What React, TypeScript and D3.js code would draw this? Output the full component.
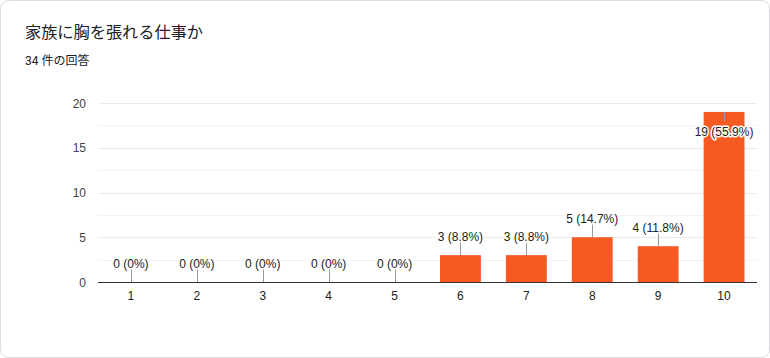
import React from "react";
import * as d3 from "d3";

const categories = ["1", "2", "3", "4", "5", "6", "7", "8", "9", "10"];
const counts = [0, 0, 0, 0, 0, 3, 3, 5, 4, 19];
const percents = ["0%", "0%", "0%", "0%", "0%", "8.8%", "8.8%", "14.7%", "11.8%", "55.9%"];
const yTicks = [0, 5, 10, 15, 20];
const yMinorTicks = [2.5, 7.5, 12.5, 17.5];
const title = "家族に胸を張れる仕事か";
const subtitle = "34 件の回答";

const W = 770;
const H = 358;
const margin = { left: 98, right: 13, top: 103, bottom: 76 };
const font = "Arial, 'Liberation Sans', sans-serif";
const barColor = "#f65a22";

export default function App() {
  const x = d3
    .scaleBand<string>()
    .domain(categories)
    .range([margin.left, W - margin.right])
    .paddingInner(0.38)
    .paddingOuter(0.19);
  const y = d3.scaleLinear().domain([0, 20]).range([H - margin.bottom, margin.top]);
  const x0 = margin.left;
  const x1 = W - margin.right;

  return (
    <svg
      width={W}
      height={H}
      style={{ position: "absolute", left: 0, top: 0, display: "block" }}
      fontFamily={font}
    >
      <rect x={0.5} y={0.5} width={W - 1} height={H - 1} rx={8} fill="#fff" stroke="#dadce0" />
      <text x={25} y={38} fontSize={16.2} fill="#202124" fontFamily="'Noto Sans CJK JP', Roboto, sans-serif">
        {title}
      </text>
      <text x={25} y={65} fontSize={12} fill="#202124" fontFamily="Roboto, 'Noto Sans CJK JP', sans-serif">
        {subtitle}
      </text>
      {yMinorTicks.map((t) => (
        <line key={"m" + t} x1={x0} x2={x1} y1={Math.round(y(t)) + 0.5} y2={Math.round(y(t)) + 0.5} stroke="#f3f3f3" />
      ))}
      {yTicks.map((t) => (
        <g key={t}>
          {t > 0 && (
            <line x1={x0} x2={x1} y1={Math.round(y(t)) + 0.5} y2={Math.round(y(t)) + 0.5} stroke="#ebebeb" />
          )}
          <text x={86} y={y(t) + 4.5} fontSize={12} fill="#444" textAnchor="end">
            {t}
          </text>
        </g>
      ))}
      {categories.map((c, i) => {
        const bx = x(c)!;
        const bw = x.bandwidth();
        const cx = bx + bw / 2;
        const top = y(counts[i]);
        const label = `${counts[i]} (${percents[i]})`;
        const inside = top - 16 < margin.top;
        return (
          <g key={c}>
            {counts[i] > 0 && <rect x={bx} y={top} width={bw} height={y(0) - top} fill={barColor} />}
            {inside ? (
              <>
                <line x1={Math.round(cx) + 0.5} x2={Math.round(cx) + 0.5} y1={top} y2={top + 10} stroke="#999" />
                <text
                  x={cx}
                  y={top + 24}
                  fontSize={12}
                  fill="#222"
                  textAnchor="middle"
                  stroke="#fff"
                  strokeWidth={3}
                  strokeLinejoin="round"
                  paintOrder="stroke"
                >
                  {label}
                </text>
              </>
            ) : (
              <>
                <line x1={Math.round(cx) + 0.5} x2={Math.round(cx) + 0.5} y1={top} y2={top - 13} stroke="#999" />
                <text
                  x={cx}
                  y={top - 14}
                  fontSize={12}
                  fill="#222"
                  textAnchor="middle"
                  stroke="#fff"
                  strokeWidth={3}
                  strokeLinejoin="round"
                  paintOrder="stroke"
                >
                  {label}
                </text>
              </>
            )}
            <text x={cx} y={300} fontSize={12} fill="#222" textAnchor="middle">
              {c}
            </text>
          </g>
        );
      })}
      <line x1={x0} x2={x1} y1={Math.round(y(0)) + 0.5} y2={Math.round(y(0)) + 0.5} stroke="#333" />
    </svg>
  );
}
